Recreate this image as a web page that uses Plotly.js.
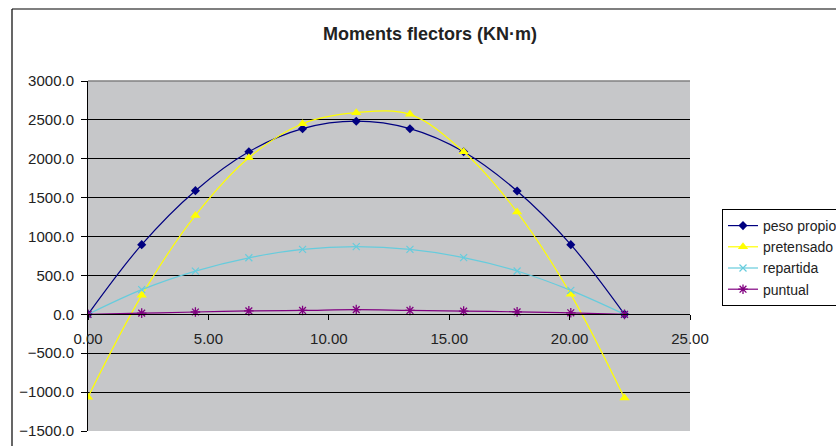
<!DOCTYPE html>
<html>
<head>
<meta charset="utf-8">
<script src="https://cdn.plot.ly/plotly-3.0.1.min.js"></script>
<style>html,body{margin:0;padding:0;background:#fff;}#chart{width:836px;height:446px;}</style>
</head>
<body>
<div id="chart"></div>
<script>
var xPos = [0, 2.23, 4.46, 6.68, 8.91, 11.14, 13.37, 15.60, 17.82, 20.05, 22.28];
var pesoPropio = [0, 896, 1590, 2090, 2387, 2483, 2387, 2090, 1585, 896, 0];
var pretensado = [-1065, 244, 1272, 2014, 2451, 2593, 2571, 2090, 1315, 257, -1076];
var repartida = [0, 317, 556, 727, 835, 870, 835, 729, 557, 308, 0];
var puntual = [0, 15, 30, 45, 50, 60, 50, 42, 32, 20, 0];
var seriesNames = ['peso propio', 'pretensado', 'repartida', 'puntual'];
var titleText = 'Moments flectors (KN·m)';

var FONT = 'Liberation Sans, Arial, sans-serif';
function tr(y, name, color, symbol, msize, mline) {
  return {
    x: xPos, y: y, name: name, type: 'scatter', mode: 'lines+markers',
    line: {color: color, width: 1.2, shape: 'spline', smoothing: 1},
    marker: {symbol: symbol, size: msize, color: color, line: {color: color, width: mline}}
  };
}
var data = [
  tr(pesoPropio, seriesNames[0], '#000080', 'diamond', 7, 0),
  tr(pretensado, seriesNames[1], '#FFFF00', 'triangle-up', 9, 0),
  tr(repartida, seriesNames[2], '#66CCDD', 'x-thin', 7, 1.2),
  tr(puntual, seriesNames[3], '#800080', 'asterisk-open', 8, 1.3)
];
var W = 602, H = 350;
function px(x) { return (x - 88) / W; }
function py(y) { return (431 - y) / H; }
var layout = {
  width: 836, height: 446,
  margin: {l: 88, r: 146, t: 81, b: 15, autoexpand: false},
  paper_bgcolor: '#ffffff',
  plot_bgcolor: '#C6C7C9',
  font: {family: FONT, size: 15, color: '#222'},
  title: {text: '<b>' + titleText + '</b>', font: {family: FONT, size: 18, color: '#222'},
          x: 430 / 836, xanchor: 'center', y: 1 - 34 / 446, yanchor: 'middle'},
  xaxis: {
    range: [0, 25], dtick: 5, tick0: 0, tickformat: '.2f',
    showgrid: false, zeroline: false,
    showline: true, linecolor: '#000', linewidth: 1,
    ticks: 'outside', ticklen: 5, tickcolor: '#000',
    anchor: 'free', position: 1 / 3,
    ticklabelstandoff: 6,
    tickfont: {family: FONT, size: 15, color: '#222'}
  },
  yaxis: {
    range: [-1500, 3000], dtick: 500, tick0: 0, tickformat: '.1f',
    showgrid: true, gridcolor: '#000', gridwidth: 1,
    zeroline: true, zerolinecolor: '#000', zerolinewidth: 1,
    showline: true, linecolor: '#000', linewidth: 1,
    ticks: 'outside', ticklen: 6, tickcolor: '#000',
    ticklabelstandoff: 4,
    tickfont: {family: FONT, size: 15, color: '#222'}
  },
  showlegend: true,
  legend: {
    x: px(722), xanchor: 'left', y: py(209), yanchor: 'top',
    bgcolor: '#ffffff', bordercolor: '#000', borderwidth: 1,
    font: {family: FONT, size: 14, color: '#222'},
    itemwidth: 30, tracegroupgap: 0
  },
  shapes: [
    {type: 'line', xref: 'paper', yref: 'paper', x0: px(12), x1: px(12), y0: py(9), y1: py(460), line: {color: '#000', width: 1.2}},
    {type: 'line', xref: 'paper', yref: 'paper', x0: px(12), x1: px(850), y0: py(9), y1: py(9), line: {color: '#000', width: 1.2}},
    {type: 'line', xref: 'paper', yref: 'paper', x0: 0, x1: 1, y0: 1, y1: 1, line: {color: '#808080', width: 1.5}}
  ]
};
Plotly.newPlot('chart', data, layout, {displayModeBar: false, staticPlot: true});
</script>
</body>
</html>
